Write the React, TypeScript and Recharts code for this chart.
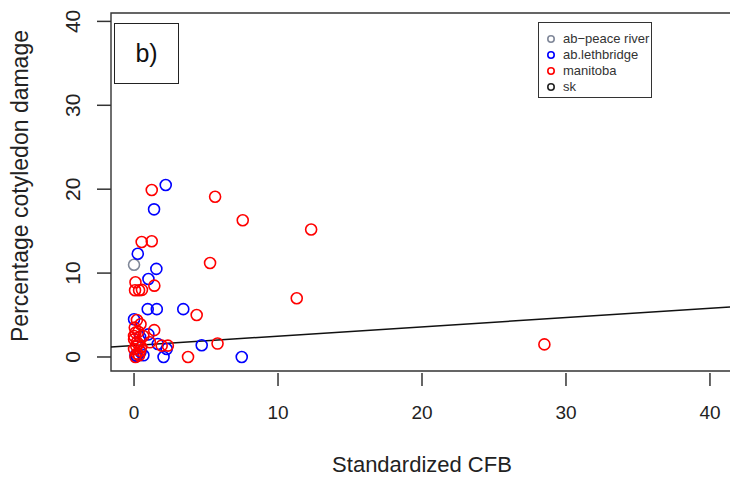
import { ScatterChart, Scatter, XAxis, YAxis, ReferenceArea, ReferenceLine } from 'recharts';

// values: x = standardized CFB, y = % cotyledon damage
const peaceRiver = [{ x: 0, y: 11.0 }];

const lethbridge = [
  { x: 2.2, y: 20.5 }, { x: 1.39, y: 17.6 }, { x: 0.26, y: 12.3 }, { x: 1.55, y: 10.5 },
  { x: 1.0, y: 9.3 }, { x: 0.95, y: 5.7 }, { x: 1.58, y: 5.7 }, { x: 3.42, y: 5.7 },
  { x: 0, y: 4.5 }, { x: 0.42, y: 2.4 }, { x: 1.0, y: 2.7 }, { x: 1.65, y: 1.55 },
  { x: 2.27, y: 0.95 }, { x: 4.7, y: 1.4 }, { x: 7.48, y: 0 }, { x: 2.05, y: 0 },
  { x: 0.1, y: 0.2 }, { x: 0.65, y: 0.2 }, { x: 0.2, y: 0.1 }, { x: 0.45, y: 0.6 },
];

const manitoba = [
  { x: 1.23, y: 19.9 }, { x: 5.63, y: 19.1 }, { x: 7.55, y: 16.3 }, { x: 12.3, y: 15.2 },
  { x: 0.53, y: 13.7 }, { x: 1.23, y: 13.8 }, { x: 5.28, y: 11.2 }, { x: 0.1, y: 8.9 },
  { x: 0.07, y: 7.95 }, { x: 0.35, y: 7.95 }, { x: 0.55, y: 8.0 }, { x: 1.41, y: 8.5 },
  { x: 11.3, y: 7.0 }, { x: 4.35, y: 5.0 }, { x: 0.2, y: 4.4 }, { x: 0.45, y: 3.9 },
  { x: 1.4, y: 3.2 }, { x: 0.1, y: 2.9 }, { x: 0.65, y: 2.5 }, { x: 0, y: 2.5 },
  { x: 0, y: 2.1 }, { x: 0.2, y: 1.75 }, { x: 1.1, y: 1.75 }, { x: 0.3, y: 1.55 },
  { x: 0, y: 0.95 }, { x: 0.42, y: 0.75 }, { x: 0.1, y: 0 }, { x: 0.2, y: 0.4 },
  { x: 0.5, y: 1.2 }, { x: 1.92, y: 1.35 }, { x: 2.35, y: 1.35 }, { x: 5.8, y: 1.6 },
  { x: 3.75, y: 0 }, { x: 28.5, y: 1.5 }, { x: 0.05, y: 3.5 }, { x: 0.3, y: 3.0 },
  { x: 0.15, y: 1.3 }, { x: 0.35, y: 0.2 },
];

const sk: { x: number; y: number }[] = [];

const fitLine = [{ x: -1.6, y: 1.19 }, { x: 41.6, y: 5.99 }];

const xTicks = [0, 10, 20, 30, 40];
const yTicks = [0, 10, 20, 30, 40];

const legendItems = [
  { name: 'ab−peace river', color: '#808899' },
  { name: 'ab.lethbridge', color: '#0000ff' },
  { name: 'manitoba', color: '#ff0000' },
  { name: 'sk', color: '#222222' },
];

const FONT = '"Liberation Sans", Arial, sans-serif';
const INK = '#222';

const ring = (color: string) => (p: any) => (
  <circle cx={p.cx} cy={p.cy} r={5.5} fill="none" stroke={color} strokeWidth={1.6} />
);

const XTick = ({ x, y, payload }: any) => (
  <g>
    <line x1={x} x2={x} y1={y + 2} y2={y + 15} stroke="#333" strokeWidth={1.5} />
    <text x={x} y={y + 48} textAnchor="middle" fontSize={19} fontFamily={FONT} fill={INK}>
      {payload.value}
    </text>
  </g>
);

const YTick = ({ x, y, payload }: any) => (
  <g>
    <line x1={x - 14} x2={x} y1={y} y2={y} stroke="#333" strokeWidth={1.5} />
    <text
      x={x - 31}
      y={y}
      transform={`rotate(-90 ${x - 31} ${y})`}
      textAnchor="middle"
      fontSize={21}
      fontFamily={FONT}
      fill={INK}
    >
      {payload.value}
    </text>
  </g>
);

export default function App() {
  return (
    <div style={{ position: 'relative', width: 730, height: 479, overflow: 'hidden', background: '#fff' }}>
      <style>{'body{margin:0}'}</style>
      <ScatterChart width={734} height={479} margin={{ top: 13, right: 1, left: 0, bottom: 0 }}>
        <XAxis
          type="number"
          dataKey="x"
          domain={[-1.6, 41.6]}
          ticks={xTicks}
          height={108}
          axisLine={false}
          tickLine={false}
          tickSize={0}
          tickMargin={0}
          tick={<XTick />}
          label={{
            content: () => (
              <text x={422} y={472} textAnchor="middle" fontSize={22} fontFamily={FONT} fill={INK}>
                Standardized CFB
              </text>
            ),
          }}
        />
        <YAxis
          type="number"
          dataKey="y"
          domain={[-1.67, 41]}
          ticks={yTicks}
          width={111}
          axisLine={false}
          tickLine={false}
          tickSize={0}
          tickMargin={0}
          tick={<YTick />}
          label={{
            content: () => (
              <text
                x={28}
                y={186}
                transform="rotate(-90 28 186)"
                textAnchor="middle"
                fontSize={23}
                fontFamily={FONT}
                fill={INK}
              >
                Percentage cotyledon damage
              </text>
            ),
          }}
        />
        <ReferenceArea x1={-1.6} x2={41.6} y1={-1.67} y2={41} fill="none" stroke="#333" strokeWidth={1.4} />
        <Scatter data={peaceRiver} shape={ring('#808899')} isAnimationActive={false} />
        <Scatter data={lethbridge} shape={ring('#0000ff')} isAnimationActive={false} />
        <Scatter data={manitoba} shape={ring('#ff0000')} isAnimationActive={false} />
        <Scatter data={sk} shape={ring('#222222')} isAnimationActive={false} />
        <ReferenceLine segment={fitLine} stroke="#111" strokeWidth={1.5} ifOverflow="visible" />
      </ScatterChart>

      <div
        style={{
          position: 'absolute', left: 114, top: 23, width: 63, height: 59,
          border: '1px solid #222', display: 'flex', alignItems: 'center', justifyContent: 'center',
          fontFamily: FONT, fontSize: 25, color: '#111', background: '#fff',
        }}
      >
        b)
      </div>

      <div
        style={{
          position: 'absolute', left: 538, top: 22, width: 114, height: 76,
          border: '1.5px solid #333', background: '#fff', fontFamily: FONT, fontSize: 13, color: '#333',
          paddingTop: 8, boxSizing: 'border-box',
        }}
      >
        {legendItems.map((it) => (
          <div key={it.name} style={{ display: 'flex', alignItems: 'center', height: 16 }}>
            <svg width={24} height={16}>
              <circle cx={12} cy={8} r={3.2} fill="none" stroke={it.color} strokeWidth={1.6} />
            </svg>
            <span style={{ lineHeight: '16px' }}>{it.name}</span>
          </div>
        ))}
      </div>
    </div>
  );
}
